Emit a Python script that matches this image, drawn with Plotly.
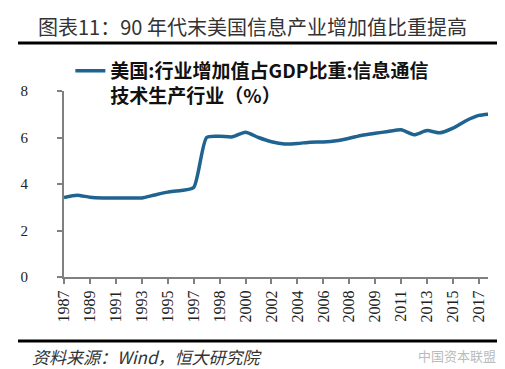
import plotly.graph_objects as go

categories = ["1987", "1988", "1989", "1990", "1991", "1992", "1993", "1994", "1995", "1996",
              "1997", "1998", "1998", "1999", "2000", "2001", "2002", "2003", "2004", "2005",
              "2006", "2007", "2008", "2009", "2009", "2010", "2011", "2012", "2013", "2014",
              "2015", "2016", "2017", "2018"]
values = [3.42, 3.52, 3.43, 3.40, 3.40, 3.40, 3.40, 3.53, 3.65, 3.72,
          3.85, 6.00, 6.05, 6.03, 6.23, 6.00, 5.82, 5.72, 5.74, 5.80,
          5.81, 5.86, 5.97, 6.10, 6.18, 6.26, 6.33, 6.12, 6.30, 6.20,
          6.40, 6.72, 6.95, 7.02]
y_ticks = [0, 2, 4, 6, 8]
series_name = "美国:行业增加值占GDP比重:信息通信<br>技术生产行业（%）"
title_text = "图表11：90 年代末美国信息产业增加值比重提高"
source_text = "资料来源：Wind，恒大研究院"
watermark_text = "中国资本联盟"

idx = list(range(len(categories)))
tick_idx = idx[::2]
tick_text = [categories[i] for i in tick_idx]

fig = go.Figure()
fig.add_trace(go.Scatter(
    x=idx, y=values, mode="lines", name=series_name,
    line=dict(color="#1f6390", width=3.5, shape="spline", smoothing=0.6),
))

axis_gray = "#808080"
fig.update_layout(
    width=505, height=369,
    margin=dict(l=56, r=25, t=83, b=100),
    paper_bgcolor="white", plot_bgcolor="white",
    showlegend=True,
    legend=dict(x=0.015, y=1.21, xanchor="left", yanchor="top",
                font=dict(family="Noto Sans CJK SC", size=19, color="#111111", weight="bold"),
                bgcolor="rgba(0,0,0,0)", valign="top", itemwidth=30),
    xaxis=dict(range=[0, 32.7], tickmode="array", tickvals=tick_idx, ticktext=tick_text,
               tickangle=-90, showline=True, linecolor=axis_gray, linewidth=2,
               ticks="outside", ticklen=5, tickwidth=2, tickcolor=axis_gray,
               showgrid=False, zeroline=False,
               tickfont=dict(family="Liberation Serif", size=16, color="#222222")),
    yaxis=dict(range=[0, 8], tickmode="array", tickvals=y_ticks,
               showline=True, linecolor=axis_gray, linewidth=2,
               ticks="outside", ticklen=5, tickwidth=2, tickcolor=axis_gray,
               showgrid=False, zeroline=False, ticklabelstandoff=26,
               tickfont=dict(family="Liberation Serif", size=15, color="#222222")),
)

fig.add_annotation(text=title_text, xref="paper", yref="paper",
                   x=(28 - 56) / 424, y=(269 - 18) / 186, xanchor="left", yanchor="middle",
                   showarrow=False,
                   font=dict(family="Noto Sans CJK SC", size=20, color="#333333"))
fig.add_annotation(text="<i>" + source_text + "</i>", xref="paper", yref="paper",
                   x=(22 - 56) / 424, y=(269 - 348) / 186, xanchor="left", yanchor="middle",
                   showarrow=False,
                   font=dict(family="Noto Sans CJK SC", size=17, color="#333333"))
fig.add_annotation(text=watermark_text, xref="paper", yref="paper",
                   x=(490 - 56) / 424, y=(269 - 347) / 186, xanchor="right", yanchor="middle",
                   showarrow=False,
                   font=dict(family="Noto Sans CJK SC", size=13, color="#bbbbbb"))

fig.add_shape(type="line", xref="paper", yref="paper",
              x0=(10 - 56) / 424, x1=(493 - 56) / 424,
              y0=(269 - 35) / 186, y1=(269 - 35) / 186,
              line=dict(color="black", width=3))
fig.add_shape(type="line", xref="paper", yref="paper",
              x0=(10 - 56) / 424, x1=(493 - 56) / 424,
              y0=(269 - 333) / 186, y1=(269 - 333) / 186,
              line=dict(color="black", width=3))

fig.write_html("out.html")
